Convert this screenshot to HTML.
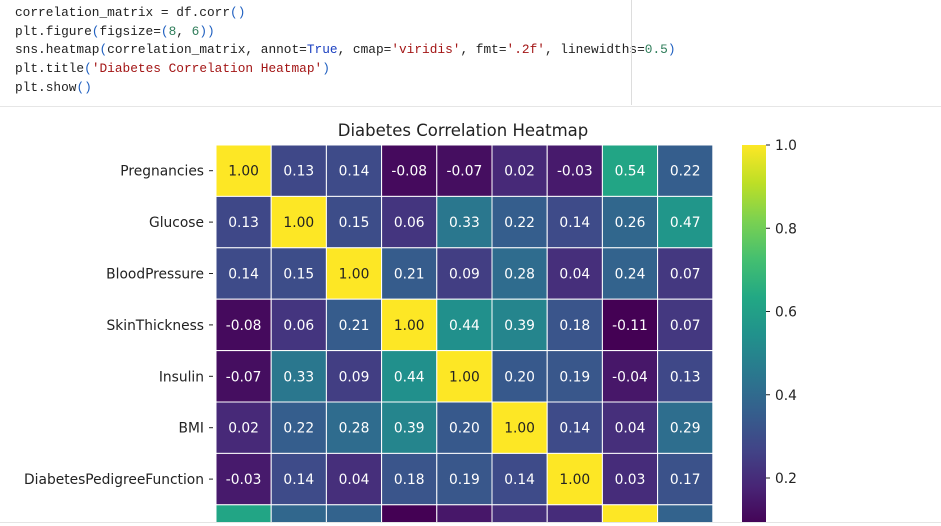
<!DOCTYPE html>
<html><head><meta charset="utf-8">
<style>
html,body{margin:0;background:#fff;width:941px;height:526px;overflow:hidden}
body{position:relative;font-family:"DejaVu Sans","Liberation Sans",sans-serif}
#code{position:absolute;left:15px;top:4px;font-family:"Liberation Mono",monospace;font-size:12.8px;line-height:18.7px;color:#222;white-space:pre}
.g{color:#2f7d5a}.b{color:#1a3fc0}.r{color:#a31515}.p{color:#2060c0}
#vline{position:absolute;left:631px;top:0;width:1px;height:105px;background:#ddd}
#hline{position:absolute;left:0;top:106px;width:941px;height:1px;background:#e6e6e6}
svg{position:absolute;left:0;top:0;overflow:hidden}
</style></head><body>
<div id="code">correlation_matrix = df.corr<span class="p">()</span>
plt.figure<span class="p">(</span>figsize=<span class="p">(</span><span class="g">8</span>, <span class="g">6</span><span class="p">))</span>
sns.heatmap<span class="p">(</span>correlation_matrix, annot=<span class="b">True</span>, cmap=<span class="r">'viridis'</span>, fmt=<span class="r">'.2f'</span>, linewidths=<span class="g">0.5</span><span class="p">)</span>
plt.title<span class="p">(</span><span class="r">'Diabetes Correlation Heatmap'</span><span class="p">)</span>
plt.show<span class="p">()</span></div>
<div id="vline"></div>
<div id="hline"></div>
<svg id="chart" width="941" height="526" viewBox="0 0 941 526"></svg>
<script>
const rowLabels=["Pregnancies","Glucose","BloodPressure","SkinThickness","Insulin","BMI","DiabetesPedigreeFunction","Age"];
const row0=[1.00,0.13,0.14,-0.08,-0.07,0.02,-0.03,0.54,0.22];
const row1=[0.13,1.00,0.15,0.06,0.33,0.22,0.14,0.26,0.47];
const row2=[0.14,0.15,1.00,0.21,0.09,0.28,0.04,0.24,0.07];
const row3=[-0.08,0.06,0.21,1.00,0.44,0.39,0.18,-0.11,0.07];
const row4=[-0.07,0.33,0.09,0.44,1.00,0.20,0.19,-0.04,0.13];
const row5=[0.02,0.22,0.28,0.39,0.20,1.00,0.14,0.04,0.29];
const row6=[-0.03,0.14,0.04,0.18,0.19,0.14,1.00,0.03,0.17];
const row7=[0.54,0.26,0.24,-0.11,-0.04,0.04,0.03,1.00,0.24];
const rows=[row0,row1,row2,row3,row4,row5,row6,row7];
const cbTicks=[0.2,0.4,0.6,0.8,1.0];
const vmin=-0.11,vmax=1.0;
const NS="http://www.w3.org/2000/svg";
const svg=document.getElementById('chart');
const X0=216,Y0=145,CW=55.2,CH=51.4;
const cx=i=>X0+i*CW, cy=j=>Y0+j*CH;
const stops=[[68,1,84],[72,36,117],[65,68,135],[53,95,141],[42,120,142],[33,145,140],[34,168,132],[68,191,112],[122,209,81],[189,223,38],[253,231,37]];
function viridis(v){let t=(v-vmin)/(vmax-vmin);t=Math.max(0,Math.min(1,t));const f=t*10,i=Math.min(9,Math.floor(f)),u=f-i;const a=stops[i],b=stops[i+1];return `rgb(${a.map((c,k)=>Math.round(c+(b[k]-c)*u)).join(',')})`;}
function el(tag,attrs){const e=document.createElementNS(NS,tag);for(const k in attrs)e.setAttribute(k,attrs[k]);svg.appendChild(e);return e;}
const title=el('text',{x:463,y:136,'text-anchor':'middle','font-size':16.5,fill:'#222'});
title.textContent='Diabetes Correlation Heatmap';


rows.forEach((r,j)=>{
  const lab=el('text',{x:cx(0)-12,y:cy(j)+CH/2+5,'text-anchor':'end','font-size':13.8,fill:'#222'});
  lab.textContent=rowLabels[j];
  
  
  const tk=el('line',{x1:cx(0)-7,x2:cx(0)-3,y1:cy(j)+CH/2,y2:cy(j)+CH/2,stroke:'#222'});
  
  
  r.forEach((v,i)=>{
    const rc=el('rect',{x:cx(i),y:cy(j),width:CW,height:CH,fill:viridis(v),stroke:'#fff','stroke-width':1});
    
    
    const t=el('text',{x:cx(i)+CW/2,y:cy(j)+CH/2+5,'text-anchor':'middle','font-size':13.8,fill:v>0.7?'#222':'#fff'});
    t.textContent=v.toFixed(2);
    
    
  });
});
const CBX=742,CBW=24,CBtop=145;
const cbY=v=>CBtop+(vmax-v)*(478-145)/0.8;
const defs=el('defs',{});
const grad=document.createElementNS(NS,'linearGradient');
grad.setAttribute('id','vg');grad.setAttribute('x1','0');grad.setAttribute('y1','1');grad.setAttribute('x2','0');grad.setAttribute('y2','0');
stops.forEach((s,k)=>{const st=document.createElementNS(NS,'stop');st.setAttribute('offset',k/10);st.setAttribute('stop-color',`rgb(${s.join(',')})`);grad.appendChild(st);});
defs.appendChild(grad);
const cb=el('rect',{x:CBX,y:CBtop,width:CBW,height:Math.min(cbY(vmin),526)-CBtop,fill:'url(#vg)'});


cbTicks.forEach(v=>{
  const y=cbY(v);
  const l=el('line',{x1:CBX+CBW,x2:CBX+CBW+4,y1:y,y2:y,stroke:'#222'});
  
  
  const t=el('text',{x:CBX+CBW+9,y:y+5,'font-size':13.8,fill:'#222'});
  t.textContent=v.toFixed(1);
  
  
});
el('rect',{x:0,y:522,width:941,height:4,fill:'#fff'});
el('line',{x1:0,x2:941,y1:522.5,y2:522.5,stroke:'#e4e4e4'});
</script>
</body></html>
